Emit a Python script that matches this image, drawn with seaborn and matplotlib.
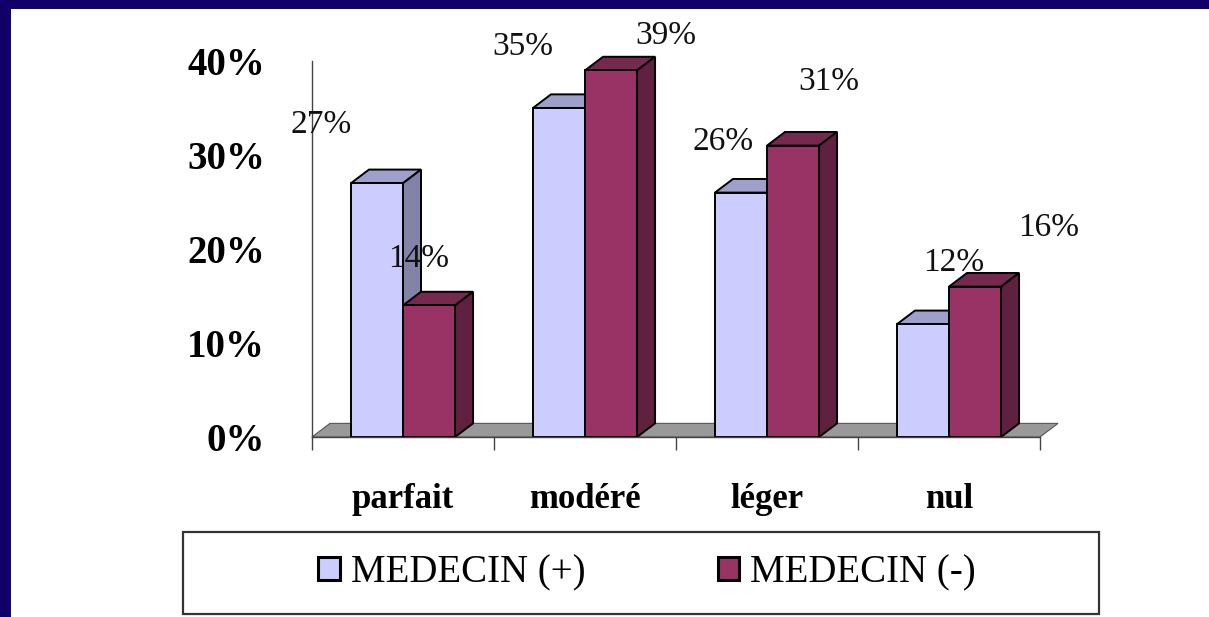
import pandas as pd
import matplotlib
matplotlib.use("Agg")
import matplotlib.pyplot as plt
from matplotlib.patches import Polygon, Rectangle
import seaborn as sns

# --- Données --- #
categories = ["parfait", "modéré", "léger", "nul"]
series = ["MEDECIN (+)", "MEDECIN (-)"]
medecin_plus = [27, 35, 26, 12]
medecin_moins = [14, 39, 31, 16]
y_ticks = [0, 10, 20, 30, 40]
y_tick_labels = ["0%", "10%", "20%", "30%", "40%"]

# --- Style --- #
couleurs_face = ["#ccccff", "#993366"]
couleurs_dessus = ["#9f9fcc", "#76294f"]
couleurs_cote = ["#8383a8", "#602040"]
navy = "#12006a"
# décalage des étiquettes (px) par série, comme dans l'original Excel
decal_plus = [(-56, 58), (-36, 61), (-18, 51), (31, 61)]
decal_moins = [(-10, 47), (55, 35), (36, 64), (74, 59)]
DX, DY = 0.099, 1.45  # profondeur 3D en unités de données

sns.set_style("white")
plt.rcParams["font.family"] = ["Liberation Serif", "DejaVu Serif"]
plt.rcParams["text.color"] = "black"

df = pd.DataFrame({
    "categorie": categories * 2,
    "valeur": medecin_plus + medecin_moins,
    "serie": [series[0]] * len(categories) + [series[1]] * len(categories),
})

fig = plt.figure(figsize=(12.09, 6.17), dpi=100)
fig.patch.set_facecolor("white")
# bandes bleu marine (haut et gauche)
fig.patches.append(Rectangle((0, 1 - 9 / 617), 1, 9 / 617, transform=fig.transFigure,
                             facecolor=navy, edgecolor="none", zorder=0))
fig.patches.append(Rectangle((0, 0), 11 / 1209, 1, transform=fig.transFigure,
                             facecolor=navy, edgecolor="none", zorder=0))

ax = fig.add_axes([312 / 1209, (617 - 437) / 617, 728 / 1209, 376 / 617])
ax.set_facecolor("none")

sns.barplot(data=df, x="categorie", y="valeur", hue="serie", palette=couleurs_face,
            width=0.572, saturation=1, edgecolor="black", linewidth=1.4,
            legend=False, ax=ax)
ax.set_xlim(-0.5, len(categories) - 0.5)
ax.set_ylim(0, 40)

# sol gris
x0, x1 = ax.get_xlim()
ax.add_patch(Polygon([(x0, 0), (x0 + DX, DY), (x1 + DX, DY), (x1, 0)], closed=True,
                     facecolor="#999999", edgecolor="#555555", linewidth=0.8,
                     zorder=1, clip_on=False))

# faces du dessus et côté pour l'effet 3D + étiquettes
for i, cont in enumerate(ax.containers):
    decal = decal_plus if i == 0 else decal_moins
    for j, p in enumerate(cont.patches):
        p.set_zorder(2 + i)
        x, w, h = p.get_x(), p.get_width(), p.get_height()
        dessus = Polygon([(x, h), (x + DX, h + DY), (x + w + DX, h + DY), (x + w, h)],
                         closed=True, facecolor=couleurs_dessus[i], edgecolor="black",
                         linewidth=1.4, zorder=1.5 + i, clip_on=False)
        cote = Polygon([(x + w, 0), (x + w + DX, DY), (x + w + DX, h + DY), (x + w, h)],
                       closed=True, facecolor=couleurs_cote[i], edgecolor="black",
                       linewidth=1.4, zorder=1.5 + i, clip_on=False)
        ax.add_patch(dessus)
        ax.add_patch(cote)
        dx, dy = decal[j]
        ax.annotate(f"{h:.0f}%", xy=(x + w / 2, h), xytext=(dx * 0.72, dy * 0.72),
                    textcoords="offset points", ha="center", va="center",
                    fontsize=24, color="#111111", zorder=5)

# axes
sns.despine(ax=ax, top=True, right=True)
ax.spines["left"].set_color("#444444")
ax.spines["bottom"].set_color("#444444")
ax.spines["left"].set_linewidth(1)
ax.spines["bottom"].set_linewidth(1)
ax.set_yticks(y_ticks)
ax.set_yticklabels(y_tick_labels, fontsize=28, fontweight="bold")
ax.tick_params(axis="y", direction="out", length=10.8, width=1, color="#444444",
               labelcolor="black", pad=23)
ax.set_xticks(range(len(categories)))
ax.set_xticklabels(categories, fontsize=25, fontweight="bold")
ax.set_xticks([k - 0.5 for k in range(len(categories) + 1)], minor=True)
ax.tick_params(axis="x", which="major", length=0, pad=33, labelcolor="black")
ax.tick_params(axis="x", which="minor", direction="out", length=9.4, width=1,
               color="#444444", bottom=True)
ax.set_xlabel("")
ax.set_ylabel("")

# légende
handles = [Rectangle((0, 0), 1, 1, facecolor=c, edgecolor="black", linewidth=2.2)
           for c in couleurs_face]
fig.legend(handles, series, loc="center", bbox_to_anchor=(647 / 1209, (617 - 573) / 617),
           ncol=2, frameon=False, prop={"size": 28}, handlelength=0.55, handleheight=0.55,
           handletextpad=0.28, columnspacing=3.4, labelcolor="black")
fig.patches.append(Rectangle((183 / 1209, 3 / 617), 916 / 1209, 82 / 617,
                             transform=fig.transFigure, facecolor="none",
                             edgecolor="#333333", linewidth=1.6))

fig.savefig("out.png", dpi=100, facecolor="white")
